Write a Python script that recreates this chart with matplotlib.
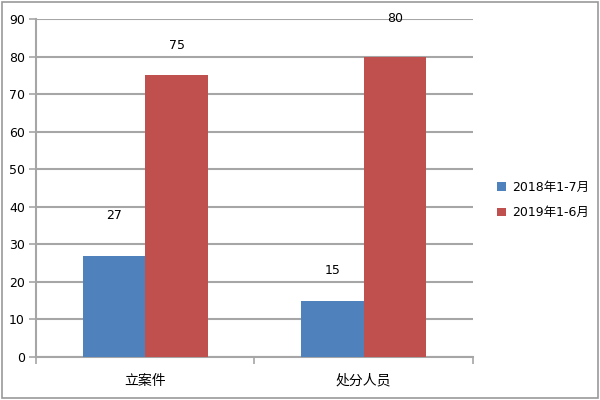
import numpy as np
import matplotlib.pyplot as plt
from matplotlib.patches import Rectangle

plt.rcParams['font.family'] = ['DejaVu Sans', 'Noto Sans CJK SC']

categories = ['立案件', '处分人员']
series_names = ['2018年1-7月', '2019年1-6月']
values_2018 = [27, 15]
values_2019 = [75, 80]
yticks = [0, 10, 20, 30, 40, 50, 60, 70, 80, 90]

colors = ['#4F81BD', '#C0504D']
grid_color = '#A6A6A6'

fig = plt.figure(figsize=(6, 4), dpi=100)
ax = fig.add_axes([0.06, 0.1075, 0.728, 0.845])

x = np.arange(len(categories))
w = 0.287
b1 = ax.bar(x - w / 2, values_2018, w, color=colors[0], label=series_names[0], zorder=3)
b2 = ax.bar(x + w / 2, values_2019, w, color=colors[1], label=series_names[1], zorder=3)

# Excel puts the data labels a bit above the bars
offsets_2018 = [40, 30]
offsets_2019 = [30, 38]
for rect, v, off in zip(b1, values_2018, offsets_2018):
    ax.annotate(str(v), (rect.get_x() + rect.get_width() / 2, v),
                textcoords='offset pixels', xytext=(0, off),
                ha='center', va='center', fontsize=9)
for rect, v, off in zip(b2, values_2019, offsets_2019):
    ax.annotate(str(v), (rect.get_x() + rect.get_width() / 2, v),
                textcoords='offset pixels', xytext=(0, off),
                ha='center', va='center', fontsize=9)

ax.set_xlim(-0.5, len(categories) - 0.5)
ax.set_ylim(0, 90)
ax.set_yticks(yticks)
ax.yaxis.grid(True, color=grid_color, linewidth=1.5, zorder=0)
ax.set_axisbelow(True)
ax.set_xticks(x)
ax.set_xticklabels(categories, fontsize=10, family=['Noto Sans CJK SC', 'DejaVu Sans'])
ax.set_xticks([-0.5, 0.5, 1.5], minor=True)
ax.tick_params(axis='x', which='major', length=0, pad=12)
ax.tick_params(axis='x', which='minor', length=5, color=grid_color, width=1.2)
ax.tick_params(axis='y', length=5, color=grid_color, width=1.2, labelsize=9, pad=3)
for s in ['top', 'right']:
    ax.spines[s].set_visible(False)
for s in ['left', 'bottom']:
    ax.spines[s].set_color(grid_color)
    ax.spines[s].set_linewidth(1.5)

leg = fig.legend(handles=[b1, b2], labels=series_names, loc='center left',
                 bbox_to_anchor=(0.81, 0.5), frameon=False, fontsize=9,
                 handlelength=0.7, handleheight=0.7, handletextpad=0.5,
                 labelspacing=1.0, prop={'family': ['DejaVu Sans', 'Noto Sans CJK SC'], 'size': 9})

fig.patches.append(Rectangle((0.004, 0.006), 0.992, 0.988, transform=fig.transFigure,
                             fill=False, edgecolor='#999999', linewidth=1.2))

fig.savefig('out.png', dpi=100)
